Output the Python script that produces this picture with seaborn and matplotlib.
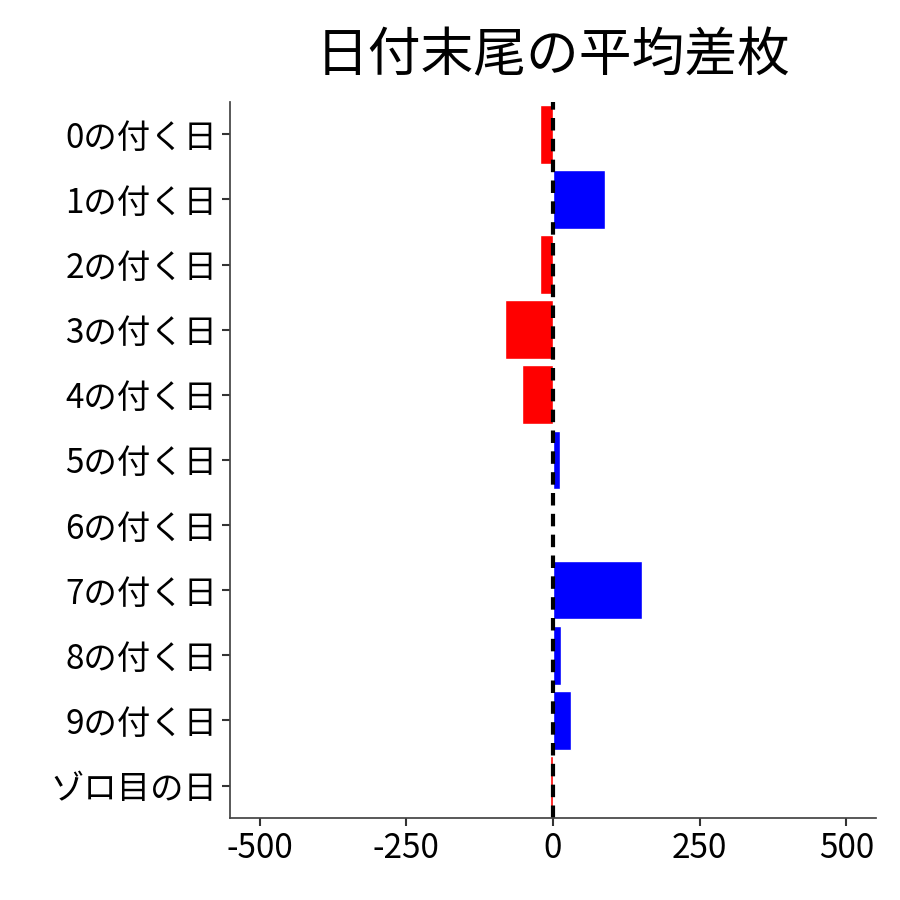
import matplotlib
matplotlib.use("Agg")
import matplotlib.pyplot as plt
import seaborn as sns
import pandas as pd

categories = ["0の付く日","1の付く日","2の付く日","3の付く日","4の付く日","5の付く日",
              "6の付く日","7の付く日","8の付く日","9の付く日","ゾロ目の日"]
values = [-22, 88, -22, -82, -53, 12, -2, 151, 14, 31, -6]
xticks = [-500, -250, 0, 250, 500]

sns.set_theme(style="white")
plt.rcParams['font.family'] = ['Noto Sans CJK JP', 'DejaVu Sans']
plt.rcParams['text.color'] = 'black'
plt.rcParams['xtick.color'] = 'black'
plt.rcParams['ytick.color'] = 'black'

df = pd.DataFrame({"cat": categories, "val": values})
df["sign"] = ["pos" if v > 0 else "neg" for v in values]

fig, ax = plt.subplots(figsize=(9, 9), dpi=100)
fig.subplots_adjust(left=0.256, right=0.973, top=0.887, bottom=0.091)
sns.barplot(data=df, y="cat", x="val", hue="sign", palette={"pos": "#0000ff", "neg": "#ff0000"},
            order=categories, orient="h", width=0.9, dodge=False, legend=False, ax=ax, saturation=1)
ax.axvline(0, color="black", linestyle=(0, (3, 2)), linewidth=3)
ax.set_xlim(-550, 550)
ax.set_xticks(xticks)
ax.set_xticklabels([str(t) for t in xticks])
ax.set_xlabel("")
ax.set_ylabel("")
ax.set_title("日付末尾の平均差枚", fontsize=38, pad=22, color="black")
ax.tick_params(axis="both", labelsize=24, length=6, width=1.5, color="#333333", left=True, bottom=True)
for s in ["top", "right"]:
    ax.spines[s].set_visible(False)
for s in ["left", "bottom"]:
    ax.spines[s].set_color("#444444")
fig.savefig("out.png", dpi=100)
